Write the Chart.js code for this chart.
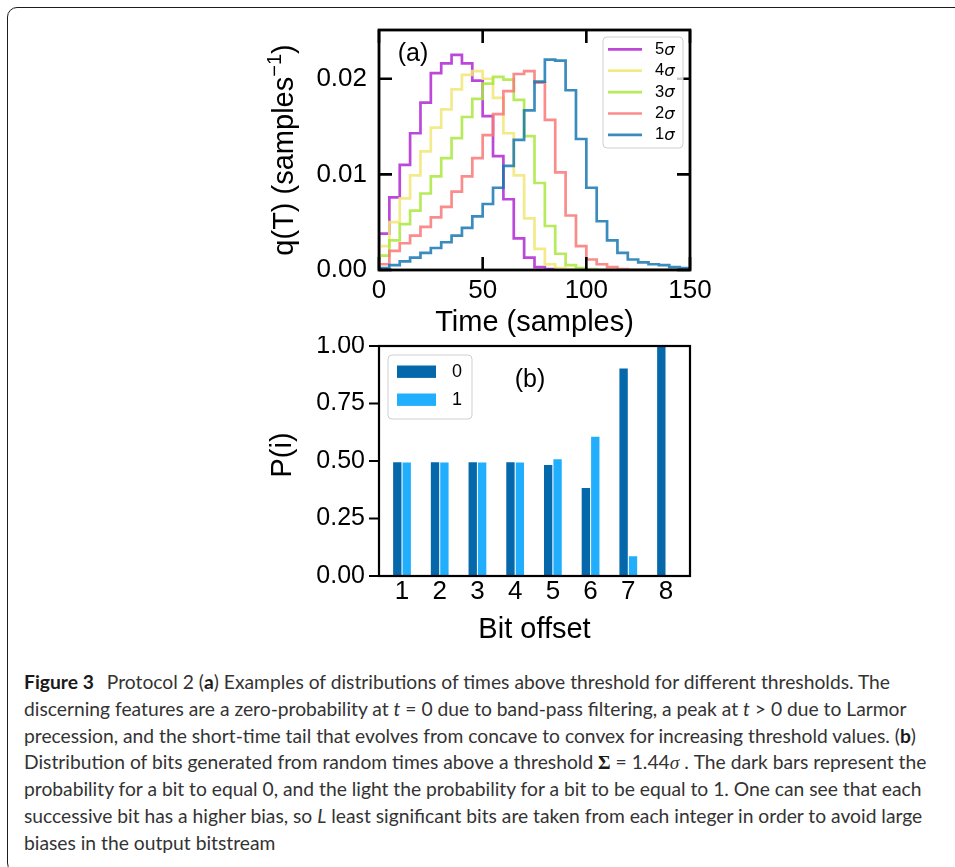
<!DOCTYPE html>
<html lang="en">
<head>
<meta charset="utf-8">
<title>Figure 3 – Protocol 2</title>
<script src="https://cdn.jsdelivr.net/npm/chart.js@4.4.1/dist/chart.umd.min.js"></script>
<style>
  html, body { margin: 0; padding: 0; background: #fff; }
  body { width: 955px; height: 867px; position: relative; overflow: hidden; }
  #panel { position: absolute; left: 7px; top: 7px; width: 1010px; height: 866px;
           border: 1.6px solid #1c1c1c; border-radius: 10px; box-sizing: border-box; }
  canvas { position: absolute; }
  #histCanvas { left: 240px; top: 20px; }
  #bitCanvas { left: 240px; top: 336px; }
  #caption { position: absolute; left: 24px; top: 669px; font-family: Lato, 'Open Sans', sans-serif;
             font-size: 18px; color: #333; white-space: nowrap; }
  #caption div { height: 26.8px; line-height: 26.8px; width: max-content; }
  #caption b { color: #1a1a1a; }
  .gap { display: inline-block; width: 13px; }
  .m { font-family: 'Liberation Serif', 'DejaVu Serif', serif; }
</style>
</head>
<body>
<div id="panel"></div>
<canvas id="histCanvas" width="482" height="320"></canvas>
<canvas id="bitCanvas" width="482" height="310"></canvas>
<div id="caption">
  <div><b>Figure 3</b><span class="gap"></span>Protocol 2 (<b>a</b>) Examples of distributions of times above threshold for different thresholds. The</div>
  <div>discerning features are a zero-probability at <i>t</i> = 0 due to band-pass filtering, a peak at <i>t</i> &gt; 0 due to Larmor</div>
  <div>precession, and the short-time tail that evolves from concave to convex for increasing threshold values. (<b>b</b>)</div>
  <div>Distribution of bits generated from random times above a threshold <span class="m"><b>Σ</b></span> = 1.44<i class="m">σ</i> . The dark bars represent the</div>
  <div>probability for a bit to equal 0, and the light the probability for a bit to be equal to 1. One can see that each</div>
  <div>successive bit has a higher bias, so <i>L</i> least significant bits are taken from each integer in order to avoid large</div>
  <div>biases in the output bitstream</div>
</div>
<script>
// ---- (a) histogram of times above threshold, 5-sample bins ----
const binEdges = [0, 5, 10, 15, 20, 25, 30, 35, 40, 45, 50, 55, 60, 65, 70, 75,
                  80, 85, 90, 95, 100, 105, 110, 115, 120, 125, 130, 135, 140, 145, 150];

const q5sigma = [0.0038, 0.0076, 0.0110, 0.0143, 0.0175, 0.0206, 0.0216, 0.0225, 0.0216, 0.0198,
                 0.0161, 0.0119, 0.0074, 0.0033, 0.0013, 0.0003, 0.0001, 0, 0, 0,
                 0, 0, 0, 0, 0, 0, 0, 0, 0, 0];
const q4sigma = [0.0025, 0.0050, 0.0075, 0.0099, 0.0124, 0.0149, 0.0168, 0.0189, 0.0204, 0.0208,
                 0.0200, 0.0180, 0.0143, 0.0099, 0.0054, 0.0022, 0.0006, 0.0002, 0.0001, 0,
                 0, 0, 0, 0, 0, 0, 0, 0, 0, 0];
const q3sigma = [0.0015, 0.0031, 0.0048, 0.0062, 0.0080, 0.0098, 0.0117, 0.0138, 0.0160, 0.0179,
                 0.0195, 0.0202, 0.0199, 0.0178, 0.0140, 0.0091, 0.0046, 0.0017, 0.0005, 0.0002,
                 0.0001, 0, 0, 0, 0, 0, 0, 0, 0, 0];
const q2sigma = [0.0006, 0.0020, 0.0028, 0.0036, 0.0045, 0.0055, 0.0066, 0.0082, 0.0098, 0.0117,
                 0.0141, 0.0163, 0.0187, 0.0205, 0.0208, 0.0196, 0.0157, 0.0102, 0.0057, 0.0025,
                 0.0011, 0.0006, 0.0003, 0.0001, 0, 0, 0, 0, 0, 0];
const q1sigma = [0.0002, 0.0005, 0.0009, 0.0013, 0.0018, 0.0023, 0.0029, 0.0036, 0.0044, 0.0056,
                 0.0069, 0.0086, 0.0109, 0.0136, 0.0167, 0.0197, 0.0220, 0.0219, 0.0188, 0.0137,
                 0.0086, 0.0051, 0.0031, 0.0018, 0.0011, 0.0008, 0.0006, 0.0005, 0.0003, 0.0002];

const sigmaLabels = ['5σ', '4σ', '3σ', '2σ', '1σ'];
const sigmaSeries = [q5sigma, q4sigma, q3sigma, q2sigma, q1sigma];
const sigmaColors = ['rgba(176,40,210,0.85)', 'rgba(241,230,118,0.85)', 'rgba(170,232,62,0.85)',
                     'rgba(249,120,120,0.85)', 'rgba(24,120,179,0.85)'];
const timeTicks = [0, 50, 100, 150];
const qTicks = [0, 0.01, 0.02];

// ---- (b) distribution of bit values per bit offset ----
const bitOffsets = [1, 2, 3, 4, 5, 6, 7, 8];
const pZero = [0.497, 0.497, 0.497, 0.497, 0.485, 0.385, 0.904, 1.0];
const pOne  = [0.496, 0.496, 0.496, 0.496, 0.510, 0.608, 0.088, 0.0];
const pTicks = [0, 0.25, 0.5, 0.75, 1.0];
const bitColors = ['#0568aa', '#21affd'];

const SANS = "'Liberation Sans', Arial, sans-serif";

// Histogram outline: rise from zero at the first edge, one step per bin, back to zero at the last edge.
function stepOutline(values) {
  const pts = [{ x: binEdges[0], y: 0 }];
  values.forEach((v, k) => pts.push({ x: binEdges[k + 1], y: v }));
  pts.push({ x: binEdges[values.length], y: 0 });
  return pts;
}

// Fix axis thickness so the plot frame lands at the same place in both panels.
function fixSize(prop, size) {
  return function (s) {
    s[prop] = size;
    s.paddingTop = s.paddingBottom = s.paddingLeft = s.paddingRight = 0;
  };
}
function setTicks(values) {
  return function (s) { s.ticks = values.map(v => ({ value: v })); };
}

// Box frame with tick marks, matplotlib style.
const axisFrame = {
  id: 'axisFrame',
  afterDatasetsDraw(chart, args, o) {
    const { ctx, chartArea: a } = chart;
    const xs = chart.scales.x, ys = chart.scales.y;
    ctx.save();
    ctx.strokeStyle = '#000';
    ctx.lineCap = 'butt';
    ctx.lineWidth = o.tickWidth;
    ctx.beginPath();
    if (o.inward) {
      xs.ticks.forEach(t => {
        const px = xs.getPixelForValue(t.value);
        ctx.moveTo(px, a.bottom); ctx.lineTo(px, a.bottom - o.tickLen);
        ctx.moveTo(px, a.top); ctx.lineTo(px, a.top + o.tickLen);
      });
      ys.ticks.forEach(t => {
        const py = ys.getPixelForValue(t.value);
        ctx.moveTo(a.left, py); ctx.lineTo(a.left + o.tickLen, py);
        ctx.moveTo(a.right, py); ctx.lineTo(a.right - o.tickLen, py);
      });
    } else {
      ys.ticks.forEach(t => {
        const py = ys.getPixelForValue(t.value);
        ctx.moveTo(a.left, py); ctx.lineTo(a.left - o.tickLen, py);
      });
    }
    ctx.stroke();
    ctx.lineWidth = o.frameWidth;
    ctx.strokeRect(a.left, a.top, a.right - a.left, a.bottom - a.top);
    ctx.restore();
  }
};

function roundBox(ctx, x, y, w, h, r) {
  ctx.beginPath();
  ctx.moveTo(x + r, y);
  ctx.arcTo(x + w, y, x + w, y + h, r);
  ctx.arcTo(x + w, y + h, x, y + h, r);
  ctx.arcTo(x, y + h, x, y, r);
  ctx.arcTo(x, y, x + w, y, r);
  ctx.closePath();
  ctx.fillStyle = 'rgba(255,255,255,0.8)';
  ctx.fill();
  ctx.strokeStyle = '#cfcfcf';
  ctx.lineWidth = 1;
  ctx.stroke();
}

// Legends, panel letters and axis titles.
const annotations = {
  id: 'annotations',
  afterDraw(chart, args, o) {
    const { ctx, chartArea: a } = chart;
    ctx.save();
    ctx.fillStyle = '#000';
    ctx.textBaseline = 'middle';

    if (o.kind === 'hist') {
      // legend
      const bx = a.right - 87, by = a.top + 7;
      roundBox(ctx, bx, by, 80, 111, 4);
      chart.data.datasets.forEach((ds, i) => {
        const cy = by + 12.3 + i * 21.4;
        ctx.strokeStyle = ds.borderColor;
        ctx.lineWidth = 2.7;
        ctx.beginPath(); ctx.moveTo(bx + 5, cy); ctx.lineTo(bx + 39, cy); ctx.stroke();
        const num = ds.label.slice(0, -1), sym = ds.label.slice(-1);
        ctx.fillStyle = '#000';
        ctx.textAlign = 'left';
        ctx.font = "16.5px " + SANS;
        ctx.fillText(num, bx + 52, cy);
        const w = ctx.measureText(num).width;
        ctx.font = "italic 16.5px 'DejaVu Sans', sans-serif";
        ctx.fillText(sym, bx + 52 + w, cy + 1);
      });
      // panel letter
      ctx.font = "25px " + SANS;
      ctx.textAlign = 'center';
      ctx.fillText('(a)', a.left + 34, a.top + 24);
      // x title
      ctx.font = "29px " + SANS;
      ctx.fillText('Time (samples)', (a.left + a.right) / 2, a.bottom + 53);
      // y title with superscript
      ctx.translate(a.left - 94, (a.top + a.bottom) / 2);
      ctx.rotate(-Math.PI / 2);
      const base = 'q(T) (samples', sup = '\u22121', close = ')';
      ctx.font = "29px " + SANS;
      const wBase = ctx.measureText(base).width, wClose = ctx.measureText(close).width;
      ctx.font = "20px " + SANS;
      const wSup = ctx.measureText(sup).width;
      let x = -(wBase + wSup + wClose) / 2;
      ctx.textAlign = 'left';
      ctx.font = "29px " + SANS;
      ctx.fillText(base, x, 0);
      x += wBase;
      ctx.font = "20px " + SANS;
      ctx.fillText(sup, x, -10);
      x += wSup;
      ctx.font = "29px " + SANS;
      ctx.fillText(close, x, 0);
    } else {
      // legend
      const bx = a.left + 9, by = a.top + 9;
      roundBox(ctx, bx, by, 84, 64, 4);
      chart.data.datasets.forEach((ds, i) => {
        const cy = by + 16.7 + i * 28;
        ctx.fillStyle = ds.backgroundColor;
        ctx.fillRect(bx + 9, cy - 6.2, 39, 12.4);
        ctx.fillStyle = '#000';
        ctx.textAlign = 'left';
        ctx.font = "18px " + SANS;
        ctx.fillText(ds.label, bx + 64, cy);
      });
      ctx.font = "25px " + SANS;
      ctx.textAlign = 'center';
      ctx.fillText('(b)', a.left + 151, a.top + 34);
      ctx.font = "29px " + SANS;
      ctx.fillText('Bit offset', (a.left + a.right) / 2, a.bottom + 54);
      ctx.translate(a.left - 96, a.top + 109);
      ctx.rotate(-Math.PI / 2);
      ctx.fillText('P(i)', 0, 0);
    }
    ctx.restore();
  }
};

Chart.defaults.font.family = SANS;
Chart.defaults.color = '#000';

// ---- panel (a) ----
new Chart(document.getElementById('histCanvas'), {
  type: 'line',
  data: {
    datasets: sigmaLabels.map((lab, i) => ({
      label: lab,
      data: stepOutline(sigmaSeries[i]),
      borderColor: sigmaColors[i],
      backgroundColor: sigmaColors[i],
      borderWidth: 2.7,
      pointRadius: 0,
      stepped: 'after',
      fill: false,
      order: sigmaLabels.length - 1 - i
    }))
  },
  options: {
    responsive: false,
    animation: false,
    devicePixelRatio: 1,
    layout: { padding: { left: 0, top: 10, right: 32, bottom: 0 } },
    plugins: {
      legend: { display: false },
      tooltip: { enabled: false },
      axisFrame: { inward: true, tickLen: 13, tickWidth: 2.6, frameWidth: 2.8 },
      annotations: { kind: 'hist' }
    },
    scales: {
      x: {
        type: 'linear', min: 0, max: 150,
        afterBuildTicks: setTicks(timeTicks),
        afterFit: fixSize('height', 70),
        grid: { display: false, drawTicks: false },
        border: { display: false },
        ticks: { font: { size: 26 }, color: '#000', padding: 5, maxRotation: 0, callback: v => String(v) }
      },
      y: {
        type: 'linear', min: 0, max: 0.0251,
        afterBuildTicks: setTicks(qTicks),
        afterFit: fixSize('width', 139),
        grid: { display: false, drawTicks: false },
        border: { display: false },
        ticks: { font: { size: 26 }, color: '#000', padding: 12, callback: v => v.toFixed(2) }
      }
    }
  },
  plugins: [axisFrame, annotations]
});

// ---- panel (b) ----
new Chart(document.getElementById('bitCanvas'), {
  type: 'bar',
  data: {
    datasets: [
      { label: '0', data: bitOffsets.map((b, i) => ({ x: b, y: pZero[i] })), backgroundColor: bitColors[0] },
      { label: '1', data: bitOffsets.map((b, i) => ({ x: b, y: pOne[i] })), backgroundColor: bitColors[1] }
    ].map(ds => Object.assign(ds, {
      borderColor: '#ffffff', borderWidth: 0.85, borderSkipped: 'start', barThickness: 9.4
    }))
  },
  options: {
    responsive: false,
    animation: false,
    devicePixelRatio: 1,
    layout: { padding: { left: 0, top: 10, right: 32, bottom: 0 } },
    plugins: {
      legend: { display: false },
      tooltip: { enabled: false },
      axisFrame: { inward: false, tickLen: 10, tickWidth: 2.2, frameWidth: 2.2 },
      annotations: { kind: 'bits' }
    },
    scales: {
      x: {
        type: 'linear', min: 0.39, max: 8.636, offset: false,
        afterBuildTicks: setTicks(bitOffsets),
        afterFit: fixSize('height', 70),
        grid: { display: false, drawTicks: false },
        border: { display: false },
        ticks: { font: { size: 26 }, color: '#000', padding: 0, maxRotation: 0, callback: v => String(v) }
      },
      y: {
        type: 'linear', min: 0, max: 1,
        afterBuildTicks: setTicks(pTicks),
        afterFit: fixSize('width', 139),
        grid: { display: false, drawTicks: false },
        border: { display: false },
        ticks: { font: { size: 25 }, color: '#000', padding: 14, callback: v => v.toFixed(2) }
      }
    }
  },
  plugins: [axisFrame, annotations]
});

// Caption: size the type so the first line spans the text column.
(function fitCaption() {
  const cap = document.getElementById('caption');
  const first = cap.firstElementChild;
  const w = first.getBoundingClientRect().width;
  if (w > 0) cap.style.fontSize = (18 * 867 / w).toFixed(2) + 'px';
})();
</script>
</body>
</html>
